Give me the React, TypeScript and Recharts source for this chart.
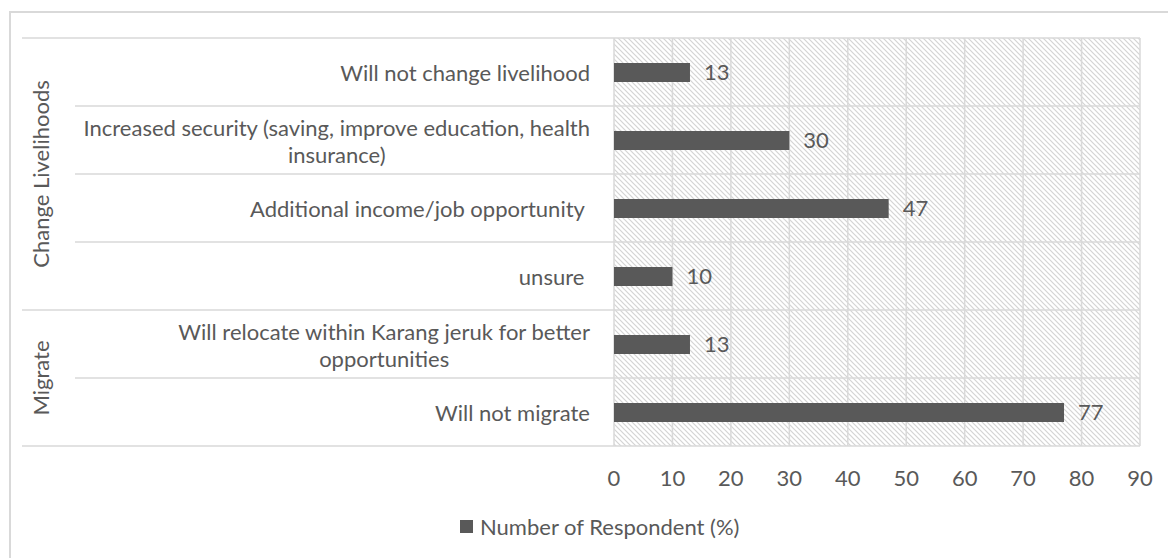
import {
  BarChart,
  Bar,
  XAxis,
  YAxis,
  CartesianGrid,
  Legend,
  LabelList,
} from "recharts";

// answers, top to bottom; "\n" marks where a long label wraps
const answers = [
  "Will not change livelihood",
  "Increased security (saving, improve education, health\ninsurance)",
  "Additional income/job opportunity ",
  "unsure ",
  "Will relocate within Karang jeruk for better\nopportunities",
  "Will not migrate",
];
const groupOf = [
  "Change Livelihoods",
  "Change Livelihoods",
  "Change Livelihoods",
  "Change Livelihoods",
  "Migrate",
  "Migrate",
];
const respondents = [13, 30, 47, 10, 13, 77];
const xTicks = [0, 10, 20, 30, 40, 50, 60, 70, 80, 90];

const data = answers.map((answer, i) => ({
  answer,
  group: groupOf[i],
  value: respondents[i],
}));

const FONT = "Lato, 'Open Sans', sans-serif";
const TEXT = "#595959";
const RULE = "#d9d9d9";
const FONT_SIZE = 22;

const AnswerTick = (props: any) => {
  const { x, y, payload, index } = props;
  const half = payload?.offset || 34;
  const lines = String(payload.value).split("\n");
  const lineH = 27;
  const top = y - ((lines.length - 1) * lineH) / 2;
  const group = groupOf[index];
  const groupStart = index === 0 || groupOf[index - 1] !== group;
  const isLast = index === answers.length - 1;

  let groupLabel = null;
  if (groupStart) {
    const count = groupOf.filter((g) => g === group).length;
    const gy = y - half + count * half;
    groupLabel = (
      <text
        x={40}
        y={gy}
        transform={`rotate(-90, 40, ${gy})`}
        textAnchor="middle"
        dominantBaseline="central"
        fill={TEXT}
        fontSize={FONT_SIZE}
        fontFamily={FONT}
      >
        {group}
      </text>
    );
  }

  return (
    <g>
      <line
        x1={groupStart ? 22 : 75}
        x2={x}
        y1={y - half}
        y2={y - half}
        stroke={RULE}
        strokeWidth={1.5}
      />
      {isLast && (
        <line x1={22} x2={x} y1={y + half} y2={y + half} stroke={RULE} strokeWidth={1.5} />
      )}
      {groupLabel}
      {lines.length === 1 ? (
        <text
          x={x - 24}
          y={y}
          textAnchor="end"
          dominantBaseline="central"
          fill={TEXT}
          fontSize={FONT_SIZE}
          fontFamily={FONT}
          style={{ whiteSpace: "pre" }}
        >
          {lines[0]}
        </text>
      ) : (
        <text
          fill={TEXT}
          fontSize={FONT_SIZE}
          fontFamily={FONT}
          dominantBaseline="central"
          textAnchor="middle"
          ref={(el) => {
            if (!el) return;
            // wrapped label: block right-aligned, each line centred on the first one
            const first = el.querySelector("tspan") as SVGTSpanElement | null;
            if (!first) return;
            const w = first.getComputedTextLength();
            const cx = x - 24 - w / 2;
            el.querySelectorAll("tspan").forEach((t) => t.setAttribute("x", String(cx)));
          }}
        >
          {lines.map((l, i) => (
            <tspan key={i} x={x - 24 - l.length * 5} y={top + i * lineH}>
              {l}
            </tspan>
          ))}
        </text>
      )}
    </g>
  );
};

const ValueTick = (props: any) => {
  const { x, y, payload } = props;
  return (
    <text
      x={x}
      y={y + 31}
      textAnchor="middle"
      dominantBaseline="central"
      fill={TEXT}
      fontSize={FONT_SIZE}
      fontFamily={FONT}
    >
      {payload.value}
    </text>
  );
};

const LegendBox = () => (
  <div
    style={{
      height: 40,
      display: "flex",
      alignItems: "center",
      paddingLeft: 460,
      fontFamily: FONT,
      fontSize: FONT_SIZE,
      color: TEXT,
    }}
  >
    <span style={{ width: 13, height: 13, background: TEXT, marginRight: 7 }} />
    Number of Respondent (%)
  </div>
);

export default function App() {
  return (
    <div style={{ position: "absolute", left: 0, top: 0, width: 1168, height: 558, background: "#fff", overflow: "hidden" }}>
      <div
        style={{
          position: "absolute",
          left: 9,
          top: 11,
          width: 1168,
          height: 558,
          borderLeft: `2px solid ${RULE}`,
          borderTop: `2px solid ${RULE}`,
        }}
      />
      <BarChart
        width={1168}
        height={558}
        layout="vertical"
        data={data}
        margin={{ top: 38, right: 28, left: 0, bottom: 12 }}
      >
        <defs>
          <pattern id="hatch" patternUnits="userSpaceOnUse" width={5} height={5}>
            <rect width={5} height={5} fill="#ffffff" />
            <path d="M-1,-1 L6,6 M-1,4 L1,6 M4,-1 L6,1" stroke="#d4d4d4" strokeWidth={1.2} />
          </pattern>
        </defs>
        <CartesianGrid
          fill="url(#hatch)"
          stroke={RULE}
          strokeWidth={1.5}
          horizontalCoordinatesGenerator={({ offset }: any) =>
            answers.map((_, i) => offset.top + (i * offset.height) / answers.length).concat(offset.top + offset.height)
          }
        />
        <XAxis
          type="number"
          domain={[0, 90]}
          ticks={xTicks}
          axisLine={false}
          tickLine={false}
          tickSize={0}
          tickMargin={0}
          height={60}
          tick={<ValueTick />}
        />
        <YAxis
          type="category"
          dataKey="answer"
          width={614}
          axisLine={false}
          tickLine={false}
          tickSize={0}
          tickMargin={0}
          interval={0}
          tick={<AnswerTick />}
        />
        <Legend verticalAlign="bottom" height={40} content={<LegendBox />} />
        <Bar dataKey="value" name="Number of Respondent (%)" fill={TEXT} barSize={19} isAnimationActive={false}>
          <LabelList
            dataKey="value"
            position="right"
            offset={14}
            fill={TEXT}
            fontSize={FONT_SIZE}
            fontFamily={FONT}
          />
        </Bar>
      </BarChart>
    </div>
  );
}
